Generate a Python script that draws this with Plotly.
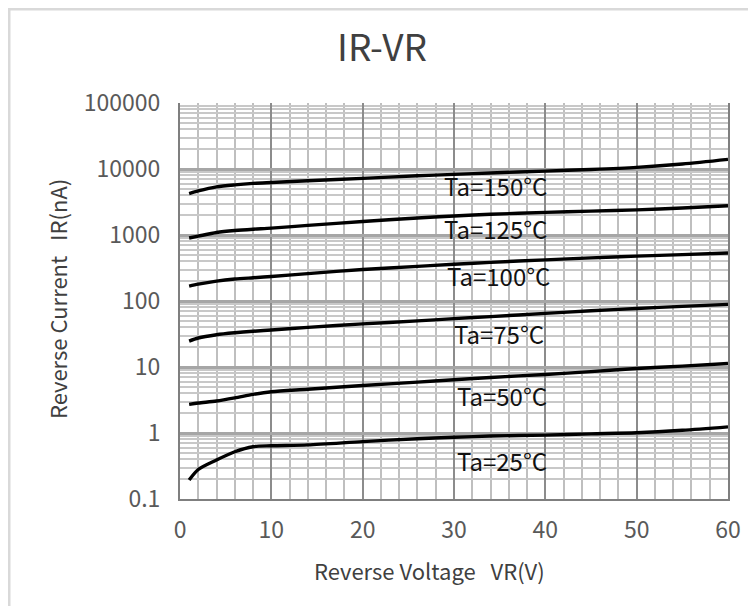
import math
import plotly.graph_objects as go

# ---- data ----
vr = [1, 2, 4, 6, 8, 10, 14, 20, 26, 30, 34, 40, 45, 50, 55, 60]
ir_150 = [4250, 4650, 5350, 5750, 6050, 6250, 6650, 7200, 7900, 8300, 8700, 9300, 9850, 10600, 11900, 14000]
ir_125 = [900, 960, 1090, 1170, 1225, 1270, 1400, 1600, 1810, 1940, 2060, 2200, 2300, 2400, 2560, 2770]
ir_100 = [168, 180, 200, 215, 225, 235, 260, 300, 335, 360, 385, 420, 450, 478, 505, 535]
ir_75 = [24.7, 27.5, 30.8, 33, 34.8, 36.3, 39.8, 45, 50, 54, 58, 65, 71, 77, 83, 89]
ir_50 = [2.72, 2.85, 3.05, 3.4, 3.85, 4.22, 4.6, 5.25, 5.9, 6.4, 6.95, 7.7, 8.5, 9.5, 10.3, 11.3]
ir_25 = [0.194, 0.28, 0.39, 0.52, 0.62, 0.64, 0.66, 0.74, 0.82, 0.86, 0.9, 0.93, 0.97, 1.01, 1.1, 1.24]

series = [ir_150, ir_125, ir_100, ir_75, ir_50, ir_25]
labels = ["Ta=150°C", "Ta=125°C", "Ta=100°C", "Ta=75°C", "Ta=50°C", "Ta=25°C"]
label_x = [28.7, 28.7, 29.0, 29.8, 30.1, 30.1]
label_y = [5690, 1268, 246, 32.6, 3.76, 0.377]

y_tickvals = [0.1, 1, 10, 100, 1000, 10000, 100000]
y_ticktext = ["0.1", "1", "10", "100", "1000", "10000", "100000"]
x_tickvals = [0, 10, 20, 30, 40, 50, 60]

FONT = "Noto Sans CJK SC"

fig = go.Figure()
for s in series:
    fig.add_trace(go.Scatter(x=vr, y=s, mode="lines",
                             line=dict(color="black", width=3.4, shape="spline", smoothing=0.8),
                             showlegend=False, hoverinfo="skip"))

for t, lx, ly in zip(labels, label_x, label_y):
    fig.add_annotation(x=lx, y=math.log10(ly), yref="y", xref="x", text=t, showarrow=False,
                       xanchor="left", yanchor="middle",
                       font=dict(family=FONT, size=24, color="#111111"))

minor_y = [m * 10.0 ** e for e in range(-1, 5) for m in range(2, 10)]

fig.update_xaxes(range=[0, 60], tickvals=x_tickvals,
                 showgrid=True, gridcolor="#8c8c8c", gridwidth=2,
                 minor=dict(dtick=2, showgrid=True, gridcolor="#bfbfbf", gridwidth=2),
                 showline=True, linecolor="#7f7f7f", linewidth=2, mirror=False,
                 ticks="outside", ticklen=9, tickcolor="rgba(0,0,0,0)",
                 tickfont=dict(family=FONT, size=23, color="#595959"),
                 zeroline=False)
fig.update_yaxes(type="log", range=[-1, 5], tickvals=y_tickvals, ticktext=y_ticktext,
                 showgrid=True, gridcolor="#a6a6a6", gridwidth=3,
                 minor=dict(tickvals=minor_y, showgrid=True, gridcolor="#c8c8c8", gridwidth=2),
                 showline=True, linecolor="#7f7f7f", linewidth=2, mirror=True,
                 ticks="outside", ticklen=13, tickcolor="rgba(0,0,0,0)",
                 tickfont=dict(family=FONT, size=23, color="#595959"),
                 zeroline=False)

# axis titles placed as annotations (figure pixel positions converted to paper units)
PL, PR, PT, PB = 172, 720, 95, 491
def px_to_paper_x(px):
    return (px - PL) / (PR - PL)
def px_to_paper_y(py):
    return (PB - py) / (PB - PT)

fig.add_annotation(x=px_to_paper_x(421), y=px_to_paper_y(562), xref="paper", yref="paper",
                   text="Reverse Voltage   VR(V)", showarrow=False,
                   xanchor="center", yanchor="middle",
                   font=dict(family=FONT, size=22, color="#404040"))
fig.add_annotation(x=px_to_paper_x(49), y=px_to_paper_y(291), xref="paper", yref="paper",
                   text="Reverse Current   IR(nA)", showarrow=False, textangle=-90,
                   xanchor="center", yanchor="middle",
                   font=dict(family=FONT, size=22, color="#404040"))

fig.add_shape(type="rect", xref="paper", yref="paper",
              x0=px_to_paper_x(1), x1=1.2, y0=-0.5, y1=px_to_paper_y(1),
              line=dict(color="#d9d9d9", width=3), fillcolor="rgba(0,0,0,0)", layer="below")

fig.update_layout(
    width=756, height=606,
    margin=dict(l=PL, r=756 - PR, t=PT, b=606 - PB),
    paper_bgcolor="white", plot_bgcolor="white",
    title=dict(text="IR-VR", x=374 / 756, xref="container", y=1 - 40 / 606, yref="container",
               xanchor="center", yanchor="middle",
               font=dict(family=FONT, size=37, color="#404040")),
)

fig.write_html("out.html")
